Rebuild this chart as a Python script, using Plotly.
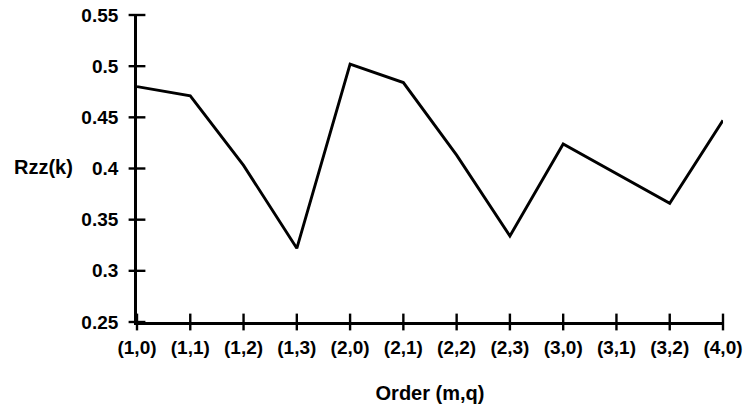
import plotly.graph_objects as go

categories = ["(1,0)", "(1,1)", "(1,2)", "(1,3)", "(2,0)", "(2,1)",
              "(2,2)", "(2,3)", "(3,0)", "(3,1)", "(3,2)", "(4,0)"]
rzz_values = [0.480, 0.471, 0.403, 0.322, 0.502, 0.484,
              0.413, 0.334, 0.424, 0.395, 0.366, 0.447]
y_ticks = [0.25, 0.3, 0.35, 0.4, 0.45, 0.5, 0.55]
y_ticktext = ["0.25", "0.3", "0.35", "0.4", "0.45", "0.5", "0.55"]
y_min, y_max = 0.25, 0.55

FONT = "Liberation Sans, Arial, sans-serif"
tick_size = 19
title_size = 20

fig = go.Figure()
fig.add_trace(go.Scatter(x=categories, y=rzz_values, mode="lines",
                         line=dict(color="black", width=2.9),
                         showlegend=False, hoverinfo="skip"))
# crossing tick marks on the x axis
fig.add_trace(go.Scatter(x=categories, y=[y_min] * len(categories), mode="markers",
                         marker=dict(symbol="line-ns", size=12, color="black",
                                     line=dict(color="black", width=2.4)),
                         cliponaxis=False, showlegend=False, hoverinfo="skip"))
# crossing tick marks on the y axis
fig.add_trace(go.Scatter(x=[categories[0]] * len(y_ticks), y=y_ticks, mode="markers",
                         marker=dict(symbol="line-ew", size=12, color="black",
                                     line=dict(color="black", width=2.4)),
                         cliponaxis=False, showlegend=False, hoverinfo="skip"))

fig.update_layout(
    width=747, height=409,
    margin=dict(l=137, r=24, t=15, b=87),
    plot_bgcolor="white", paper_bgcolor="white",
    font=dict(family=FONT, size=tick_size, color="black"),
    xaxis=dict(type="category", range=[0, 11], showgrid=False, zeroline=False,
               showline=True, linecolor="black", linewidth=2.8,
               ticks="", ticklabelstandoff=6, automargin=False,
               tickfont=dict(family=FONT, size=tick_size, weight="bold"),
               title=dict(text="<b>Order (m,q)</b>", standoff=30,
                          font=dict(family=FONT, size=title_size))),
    yaxis=dict(range=[y_min, y_max], tickvals=y_ticks, ticktext=y_ticktext,
               showgrid=False, zeroline=False,
               showline=True, linecolor="black", linewidth=2.8,
               ticks="", ticklabelstandoff=12, automargin=False,
               tickfont=dict(family=FONT, size=tick_size, weight="bold")),
    annotations=[dict(text="<b>Rzz(k)</b>", xref="paper", yref="paper",
                      x=-0.106, y=0.505, xanchor="right", yanchor="middle",
                      showarrow=False, font=dict(family=FONT, size=title_size))],
)

fig.write_html("out.html", config={"displayModeBar": False},
               post_script="document.body.style.margin='0';")
